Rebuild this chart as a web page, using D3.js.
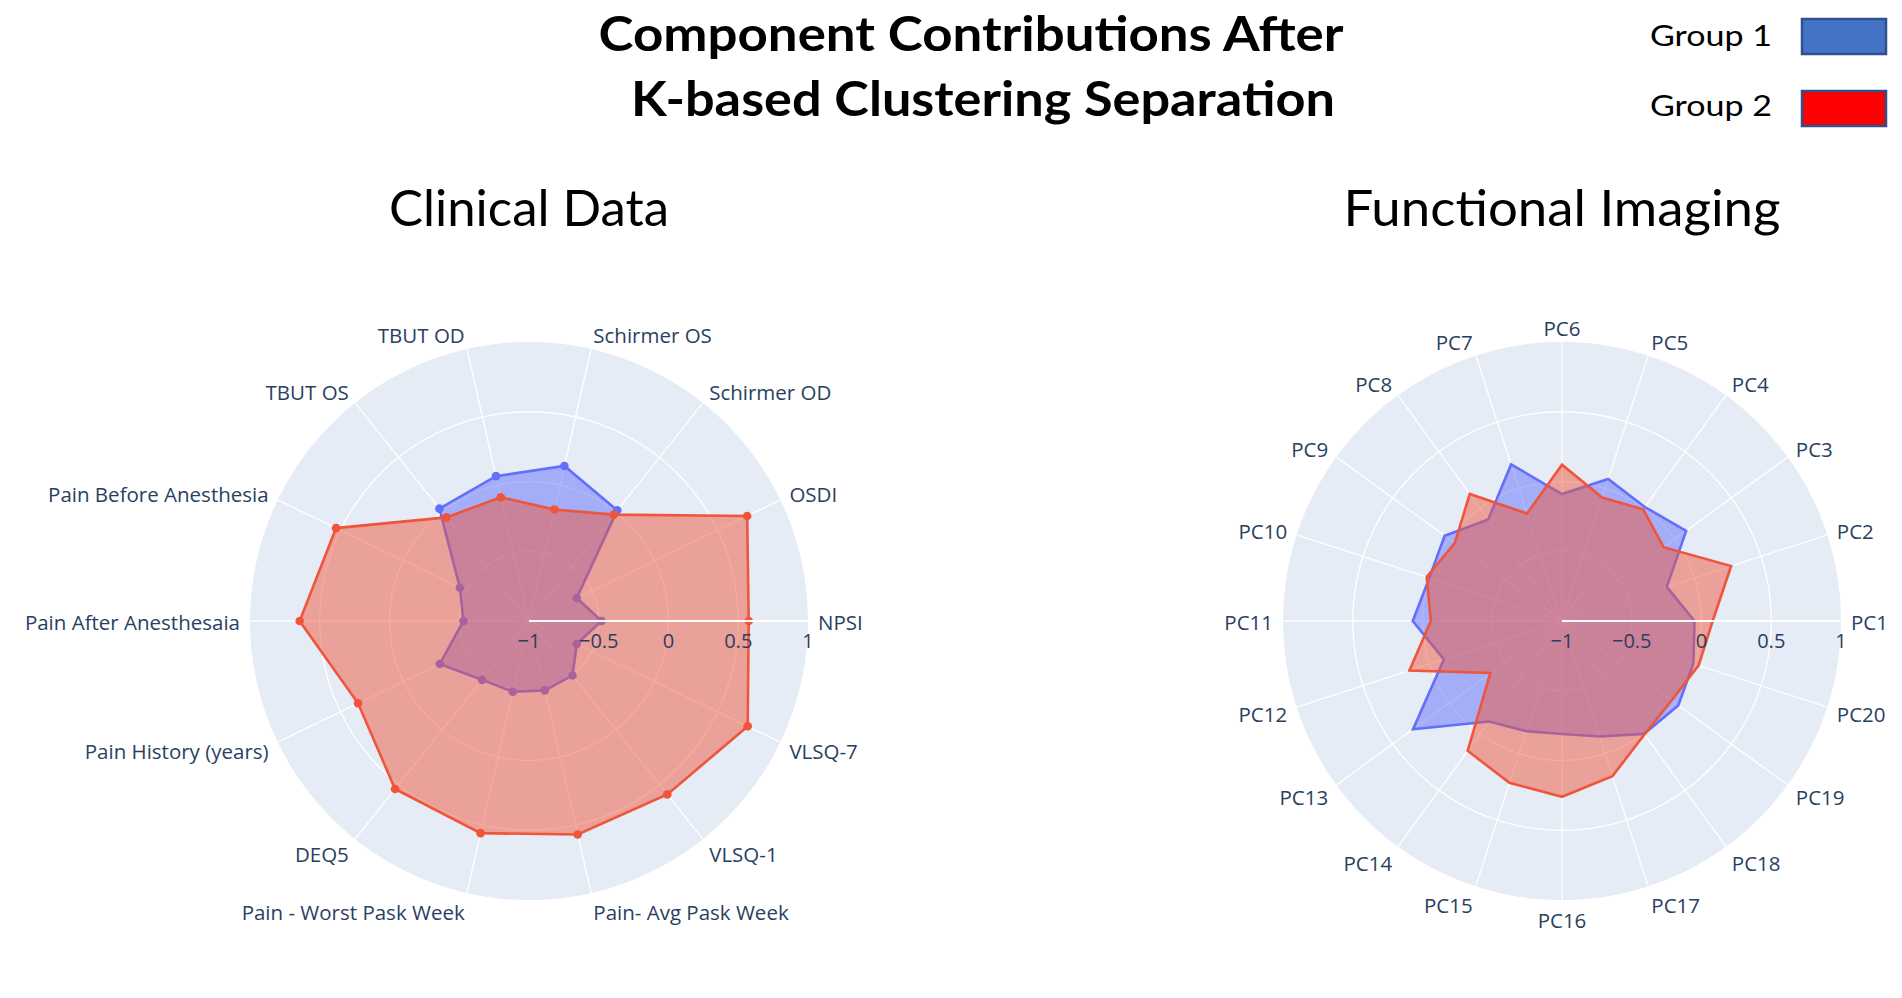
<!DOCTYPE html>
<html>
<head>
<meta charset="utf-8">
<script src="https://cdn.jsdelivr.net/npm/d3@7"></script>
<style>
  body { margin: 0; background: #fff; }
  svg { display: block; }
</style>
</head>
<body>
<svg id="chart" width="1902" height="998"></svg>
<script>
// chart data
var clinicalCategories = ["NPSI", "OSDI", "Schirmer OD", "Schirmer OS", "TBUT OD", "TBUT OS",
  "Pain Before Anesthesia", "Pain After Anesthesaia", "Pain History (years)", "DEQ5",
  "Pain - Worst Pask Week", "Pain- Avg Pask Week", "VLSQ-1", "VLSQ-7"];
var clinicalGroup1 = [-0.48, -0.62, 0.015, 0.14, 0.065, 0.03, -0.45, -0.53, -0.29, -0.46, -0.48, -0.49, -0.50, -0.62];
var clinicalGroup2 = [0.575, 0.736, -0.025, -0.18, -0.09, -0.05, 0.535, 0.644, 0.36, 0.54, 0.56, 0.57, 0.59, 0.74];

var imagingCategories = ["PC1", "PC2", "PC3", "PC4", "PC5", "PC6", "PC7", "PC8", "PC9", "PC10",
  "PC11", "PC12", "PC13", "PC14", "PC15", "PC16", "PC17", "PC18", "PC19", "PC20"];
var imagingGroup1 = [-0.05, -0.21, 0.10, 0.01, 0.07, -0.09, 0.18, -0.10, 0.04, 0.0,
  0.07, -0.11, 0.32, -0.11, -0.17, -0.19, -0.13, 0.0, 0.03, -0.01];
var imagingGroup2 = [0.08, 0.275, -0.10, -0.01, -0.07, 0.12, -0.19, 0.125, -0.05, 0.02,
  -0.06, 0.15, -0.365, 0.15, 0.22, 0.26, 0.17, 0.005, -0.03, 0.03];

var radialTicks = [-1, -0.5, 0, 0.5, 1];
var groupNames = ["Group 1", "Group 2"];

(function() {
  var svg = d3.select('#chart');
  var labelFont = '"Open Sans", verdana, arial, sans-serif';
  var labelColor = '#2a3f5f';
  var R = 279;

  // trace colours (plotly defaults) and legend swatch colours
  var lineColors = ['#636efa', '#EF553B'];
  var fillColors = ['rgba(99,110,250,0.5)', 'rgba(239,85,59,0.5)'];
  var swatchColors = ['#4472C4', '#FF0000'];

  // titles
  svg.append('text')
    .attr('x', 971).attr('y', 51)
    .attr('text-anchor', 'middle')
    .attr('textLength', 745).attr('lengthAdjust', 'spacingAndGlyphs')
    .style('font-family', 'Lato, sans-serif').style('font-weight', 700)
    .style('font-size', '47px').style('fill', '#000')
    .text('Component Contributions After');
  svg.append('text')
    .attr('x', 983).attr('y', 116)
    .attr('text-anchor', 'middle')
    .attr('textLength', 704).attr('lengthAdjust', 'spacingAndGlyphs')
    .style('font-family', 'Lato, sans-serif').style('font-weight', 700)
    .style('font-size', '47px').style('fill', '#000')
    .text('K-based Clustering Separation');

  // legend
  var legend = svg.append('g');
  groupNames.forEach(function(name, i) {
    legend.append('text')
      .attr('x', 1650).attr('y', 46 + i * 70)
      .attr('textLength', 122).attr('lengthAdjust', 'spacingAndGlyphs')
      .style('font-family', 'Lato, sans-serif').style('font-size', '28px')
      .style('fill', '#000')
      .text(name);
    legend.append('rect')
      .attr('x', 1802).attr('y', 19 + i * 72)
      .attr('width', 84).attr('height', 35)
      .style('fill', swatchColors[i])
      .style('stroke', '#2F528F').style('stroke-width', 2.5);
  });

  function drawRadar(cx, cy, title, titleWidth, categories, series, withMarkers) {
    var g = svg.append('g').attr('transform', 'translate(' + cx + ',' + cy + ')');
    var r = d3.scaleLinear().domain([-1, 1]).range([0, R]);
    // angle in math sense: counterclockwise from east
    var theta = d3.scaleLinear().domain([0, categories.length]).range([0, 2 * Math.PI]);

    svg.append('text')
      .attr('x', cx).attr('y', 226)
      .attr('text-anchor', 'middle')
      .attr('textLength', titleWidth).attr('lengthAdjust', 'spacingAndGlyphs')
      .style('font-family', 'Lato, sans-serif').style('font-size', '50px')
      .style('fill', '#000')
      .text(title);

    // background disc
    g.append('circle').attr('r', R).style('fill', '#E5ECF6');

    // radial grid circles
    g.selectAll('.rgrid')
      .data(radialTicks.filter(function(t) { return t > -1 && t < 1; }))
      .enter().append('circle')
      .attr('r', function(t) { return r(t); })
      .style('fill', 'none').style('stroke', '#fff').style('stroke-width', 1.3);

    // angular spokes
    g.selectAll('.spoke')
      .data(categories)
      .enter().append('line')
      .attr('x1', 0).attr('y1', 0)
      .attr('x2', function(d, i) { return R * Math.cos(theta(i)); })
      .attr('y2', function(d, i) { return -R * Math.sin(theta(i)); })
      .style('stroke', '#fff').style('stroke-width', 1.3);

    // traces
    var radial = d3.lineRadial()
      .angle(function(d, i) { return Math.PI / 2 - theta(i); })
      .radius(function(d) { return r(d); })
      .curve(d3.curveLinearClosed);

    series.forEach(function(values, k) {
      g.append('path')
        .attr('d', radial(values))
        .style('fill', fillColors[k])
        .style('stroke', lineColors[k])
        .style('stroke-width', 2.6)
        .style('stroke-linejoin', 'miter');
      if (withMarkers) {
        g.selectAll('.m' + k)
          .data(values)
          .enter().append('circle')
          .attr('cx', function(d, i) { return r(d) * Math.cos(theta(i)); })
          .attr('cy', function(d, i) { return -r(d) * Math.sin(theta(i)); })
          .attr('r', 4.3)
          .style('fill', lineColors[k]);
      }
    });

    // radial axis line (drawn above traces)
    g.append('line')
      .attr('x1', 0).attr('y1', 0).attr('x2', R).attr('y2', 0)
      .style('stroke', '#fff').style('stroke-width', 1.8);

    g.selectAll('.rtick')
      .data(radialTicks)
      .enter().append('text')
      .attr('x', function(t) { return r(t); })
      .attr('y', 27)
      .attr('text-anchor', 'middle')
      .style('font-family', labelFont).style('font-size', '20px')
      .style('fill', labelColor)
      .text(function(t) { return t === -1 || t === -0.5 ? '\u2212' + Math.abs(t) : t; });

    // angular labels
    var pad = 10, capH = 14;
    g.selectAll('.alabel')
      .data(categories)
      .enter().append('text')
      .attr('x', function(d, i) { return (R + pad) * Math.cos(theta(i)); })
      .attr('y', function(d, i) {
        var s = Math.sin(theta(i));
        return -(R + pad) * s + capH * (1 - s) / 2 + 1.5 + 2 * Math.abs(s);
      })
      .attr('text-anchor', function(d, i) {
        var c = Math.cos(theta(i));
        return Math.abs(c) < 0.1 ? 'middle' : (c > 0 ? 'start' : 'end');
      })
      .style('font-family', labelFont).style('font-size', '20.5px')
      .style('fill', labelColor)
      .text(function(d) { return d; });
  }

  drawRadar(529, 621, 'Clinical Data', 280, clinicalCategories, [clinicalGroup1, clinicalGroup2], true);
  drawRadar(1562, 621, 'Functional Imaging', 437, imagingCategories, [imagingGroup1, imagingGroup2], false);
})();
</script>
</body>
</html>
